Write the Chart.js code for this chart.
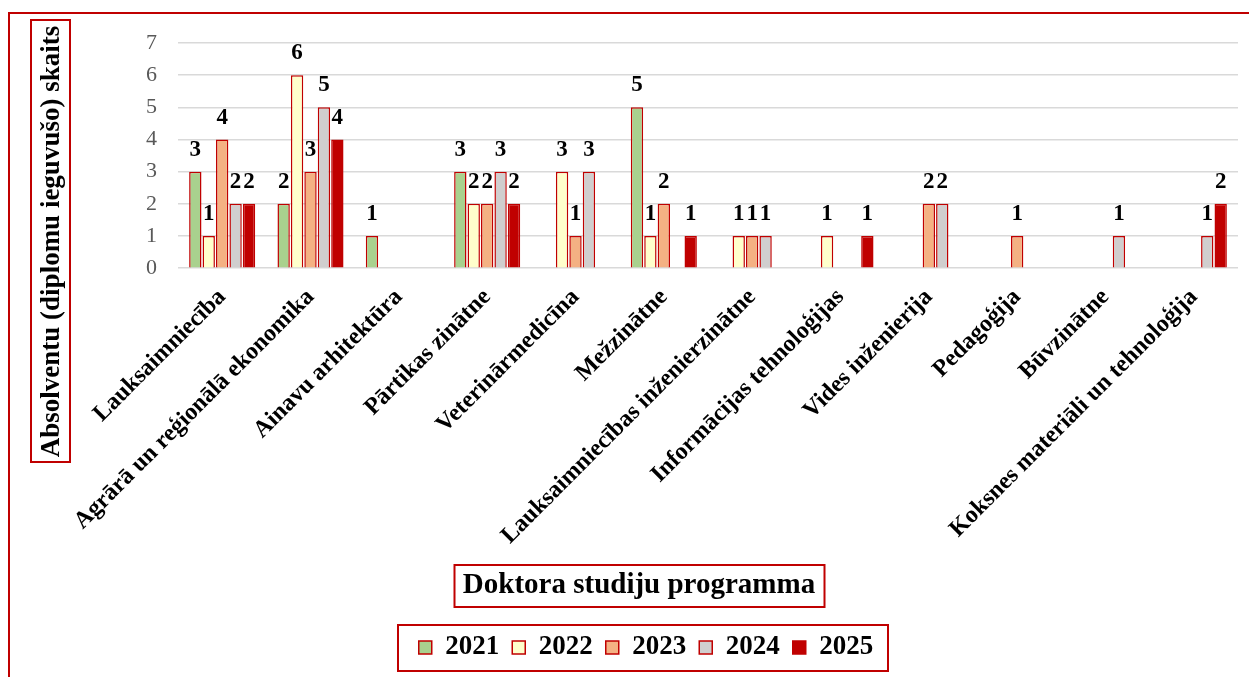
<!DOCTYPE html>
<html lang="lv">
<head>
<meta charset="utf-8">
<title>Doktora studiju programmas absolventi</title>
<script src="https://cdn.jsdelivr.net/npm/chart.js@4.4.1/dist/chart.umd.min.js"></script>
<style>
    html, body { margin: 0; padding: 0; background: #fff; overflow: hidden; }
    #frame {
        position: absolute; left: 8px; top: 12px; width: 1300px; height: 720px;
        border: 2px solid #C00000; box-sizing: border-box;
    }
    #wrap { position: absolute; left: 0; top: 0; width: 1249px; height: 677px; }
    #ytitle {
        position: absolute; left: 30px; top: 19px; width: 41px; height: 444px;
        border: 2px solid #C00000; box-sizing: border-box;
        display: flex; align-items: center; justify-content: center;
    }
    #ytitle span {
        display: block; transform: rotate(-90deg); white-space: nowrap;
        font: bold 27px 'Times New Roman', 'Liberation Serif', serif; color: #000;
    }
</style>
</head>
<body>
<div id="frame"></div>
<div id="wrap"><canvas id="chart" width="1249" height="677"></canvas></div>
<div id="ytitle"><span>Absolventu (diplomu ieguvušo) skaits</span></div>

<script>
// --- data ---
const programmes = [
    'Lauksaimniecība', 'Agrārā un reģionālā ekonomika', 'Ainavu arhitektūra',
    'Pārtikas zinātne', 'Veterinārmedicīna', 'Mežzinātne',
    'Lauksaimniecības inženierzinātne', 'Informācijas tehnoloģijas', 'Vides inženierija',
    'Pedagoģija', 'Būvzinātne', 'Koksnes materiāli un tehnoloģija'
];
const years = ['2021', '2022', '2023', '2024', '2025'];
const grads2021 = [3, 2, 1, 3, 0, 5, 0, 0, 0, 0, 0, 0];
const grads2022 = [1, 6, 0, 2, 3, 1, 1, 1, 0, 0, 0, 0];
const grads2023 = [4, 3, 0, 2, 1, 2, 1, 0, 2, 1, 0, 0];
const grads2024 = [2, 5, 0, 3, 3, 0, 1, 0, 2, 0, 1, 1];
const grads2025 = [2, 4, 0, 2, 0, 1, 0, 1, 0, 0, 0, 2];
const yTicks = [0, 1, 2, 3, 4, 5, 6, 7];

const SERIF = "'Times New Roman', 'Liberation Serif', serif";
const RED = '#C00000';
const fills = ['#A9D18E', '#FFFFCC', '#F4B183', '#D0CECE', '#C00000'];
const series = [grads2021, grads2022, grads2023, grads2024, grads2025];
const LEGEND_SHIFT = 7;

// value labels above each non-zero bar
const valueLabels = {
    id: 'valueLabels',
    afterDatasetsDraw(chart) {
        const ctx = chart.ctx;
        ctx.save();
        ctx.font = 'bold 23px ' + SERIF;
        ctx.fillStyle = '#000';
        ctx.textAlign = 'center';
        ctx.textBaseline = 'alphabetic';
        chart.data.datasets.forEach((ds, i) => {
            chart.getDatasetMeta(i).data.forEach((bar, j) => {
                const v = ds.data[j];
                if (v > 0) ctx.fillText(String(v), bar.x, bar.y - 16);
            });
        });
        ctx.restore();
    }
};

// nudge legend a little right (the original has a tighter box-to-text gap)
const legendNudge = {
    id: 'legendNudge',
    afterUpdate(chart) { chart.$legendShifted = false; },
    beforeDraw(chart) {
        if (chart.$legendShifted) return;
        const lg = chart.legend;
        lg.left += LEGEND_SHIFT;
        lg.right += LEGEND_SHIFT;
        lg.legendHitBoxes.forEach(h => { h.left += LEGEND_SHIFT; });
        chart.$legendShifted = true;
    }
};

// red frames round the x title and the legend
const frames = {
    id: 'frames',
    afterDraw(chart) {
        const ctx = chart.ctx;
        ctx.save();
        ctx.strokeStyle = RED;
        ctx.lineWidth = 2;

        const tb = chart.titleBlock;
        const topts = chart.options.plugins.title;
        ctx.font = 'bold ' + topts.font.size + 'px ' + SERIF;
        const tw = ctx.measureText(topts.text).width;
        const cx = (tb.left + tb.right) / 2;
        const cy = tb.top + topts.padding.top + topts.font.size * 1.2 / 2;
        ctx.strokeRect(Math.round(cx - tw / 2 - 9) + 0.5, Math.round(cy - 21), Math.round(tw + 18), 42);

        const hb = chart.legend.legendHitBoxes;
        const l = Math.min(...hb.map(h => h.left));
        const r = Math.max(...hb.map(h => h.left + h.width));
        const my = hb[0].top + hb[0].height / 2;
        ctx.strokeRect(Math.round(l - 21), Math.round(my - 23), Math.round(r - l + 35), 46);
        ctx.restore();
    }
};

new Chart(document.getElementById('chart'), {
    type: 'bar',
    data: {
        labels: programmes,
        datasets: years.map((y, i) => ({
            label: y,
            data: series[i],
            backgroundColor: fills[i],
            borderColor: RED,
            borderWidth: 1.5,
            barPercentage: 0.92,
            categoryPercentage: 0.76,
        }))
    },
    options: {
        responsive: false,
        animation: false,
        layout: { padding: { left: 40, right: 11, top: 43, bottom: 6 } },
        scales: {
            x: {
                grid: { display: false },
                border: { display: false },
                ticks: {
                    autoSkip: false, maxRotation: 45, minRotation: 45, padding: 7,
                    color: '#000', font: { family: SERIF, size: 24, weight: 'bold' }
                },
                afterFit: s => { s.height = 290; }
            },
            y: {
                min: 0, max: 7,
                grid: { color: '#D9D9D9', lineWidth: 1.5, drawTicks: false },
                border: { display: false },
                ticks: {
                    stepSize: 1, padding: 21, color: '#595959',
                    font: { family: SERIF, size: 22 }
                },
                afterBuildTicks: s => { s.ticks = yTicks.map(v => ({ value: v })); },
                afterFit: s => { s.width = 138; }
            }
        },
        plugins: {
            tooltip: { enabled: false },
            title: {
                display: true, position: 'bottom', weight: 500,
                text: 'Doktora studiju programma', color: '#000',
                font: { family: SERIF, size: 29, weight: 'bold' },
                padding: { top: 10, bottom: 18 }
            },
            legend: {
                position: 'bottom',
                labels: {
                    boxWidth: 13, boxHeight: 13, padding: 13, color: '#000',
                    font: { family: SERIF, size: 27, weight: 'bold' }
                }
            }
        }
    },
    plugins: [valueLabels, legendNudge, frames]
});
</script>
</body>
</html>
